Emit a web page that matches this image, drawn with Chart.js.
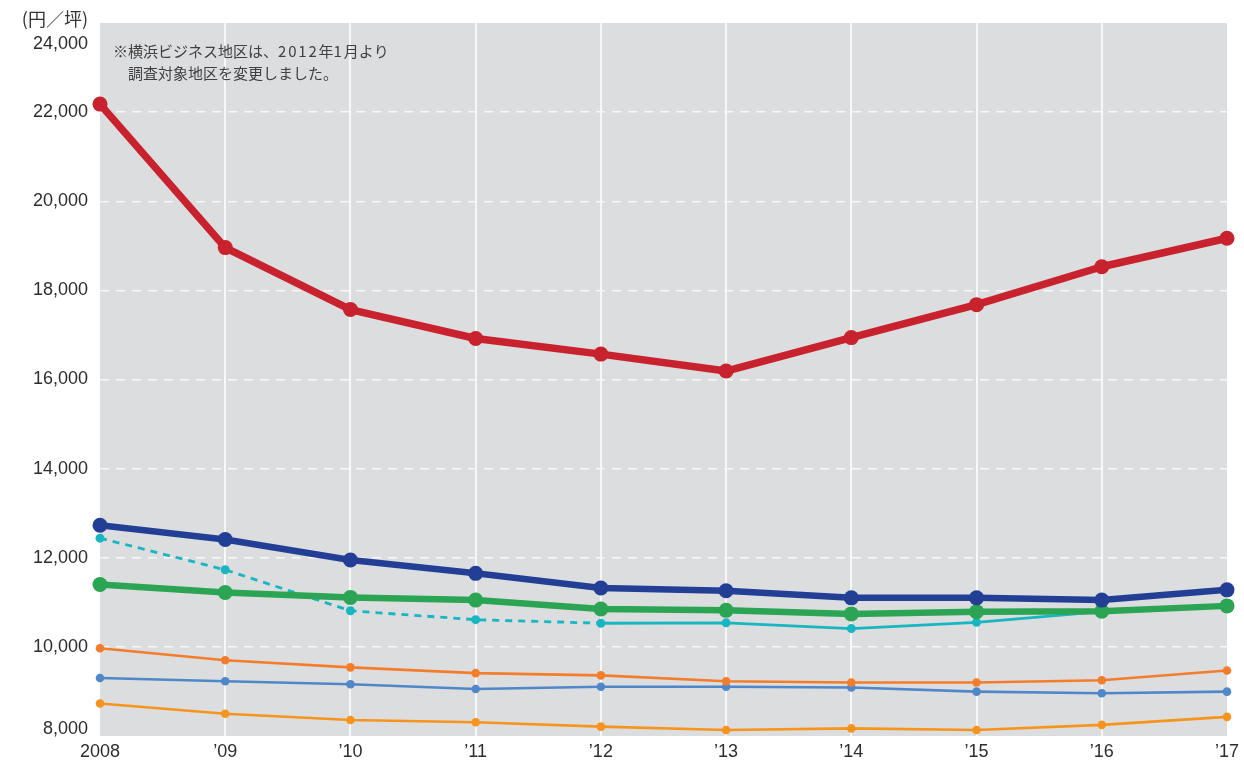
<!DOCTYPE html>
<html lang="ja">
<head>
<meta charset="utf-8">
<title>オフィス賃料推移</title>
<script src="https://cdn.jsdelivr.net/npm/chart.js@4/dist/chart.umd.min.js"></script>
<style>
  html, body { margin: 0; padding: 0; background: #ffffff; }
  #wrap { width: 1244px; height: 763px; }
</style>
</head>
<body>
<div id="wrap"><canvas id="c" width="1244" height="763"></canvas></div>
<script>
// Category labels along the x axis
const years = ['2008', '’09', '’10', '’11', '’12', '’13', '’14', '’15', '’16', '’17'];

// Y axis range and tick step (円／坪)
const yMin = 8000;
const yMax = 24000;
const yStep = 2000;

// Series values, 円／坪
const redSeries    = [22180, 18960, 17570, 16920, 16570, 16190, 16940, 17680, 18530, 19170];
const navySeries   = [12730, 12410, 11950, 11650, 11320, 11260, 11100, 11100, 11050, 11280];
const greenSeries  = [11400, 11220, 11110, 11050, 10850, 10820, 10740, 10790, 10800, 10920];
const cyanSeries   = [12440, 11730, 10810, 10610, 10530, 10540, 10410, 10550, 10790, 10910];
const orangeSeries = [9970, 9700, 9540, 9410, 9360, 9230, 9200, 9200, 9250, 9470];
const blueSeries   = [9300, 9230, 9160, 9055, 9105, 9105, 9090, 8995, 8960, 8995];
const amberSeries  = [8730, 8500, 8360, 8310, 8210, 8135, 8170, 8135, 8250, 8430];

// Index of the last point of the dashed (pre-2012 survey area) section of the cyan line
const cyanDashedUntil = 4;

const FONT_LATIN = '"Liberation Sans", Arial, Helvetica, sans-serif';
const FONT_JP = '"Noto Sans CJK JP", "Noto Sans", sans-serif';
const PLOT_BG = '#dcdddf';
const TICK_COLOR = '#2d2d2d';
const fmt = v => v.toLocaleString('en-US');

function line(data, color, width, radius, extra) {
  return Object.assign({
    data: data,
    borderColor: color,
    backgroundColor: color,
    pointBackgroundColor: color,
    pointBorderColor: color,
    pointBorderWidth: 0,
    borderWidth: width,
    pointRadius: radius,
    pointHoverRadius: radius,
    tension: 0,
    fill: false,
    clip: false,
    borderJoinStyle: 'round',
    borderCapStyle: 'round'
  }, extra || {});
}

// Draws text in runs; digit runs get a little extra tracking
function drawRuns(ctx, text, x, y, digitSpacing) {
  const runs = text.match(/[0-9]+|[^0-9]+/g) || [];
  let cx = x;
  for (const r of runs) {
    const isDigits = /^[0-9]+$/.test(r);
    ctx.letterSpacing = isDigits ? digitSpacing + 'px' : '0px';
    ctx.fillText(r, cx, y);
    cx += ctx.measureText(r).width;
  }
  ctx.letterSpacing = '0px';
}

// Grey plot background, end tick labels, unit label and footnote
const decor = {
  id: 'decor',
  beforeDraw(chart) {
    const { ctx, chartArea: a } = chart;
    ctx.save();
    ctx.fillStyle = PLOT_BG;
    ctx.fillRect(a.left, a.top, a.right - a.left, a.bottom - a.top);
    ctx.restore();
  },
  afterDraw(chart) {
    const { ctx } = chart;
    const ys = chart.scales.y;
    const labelRight = ys.right - ys.options.ticks.padding;
    ctx.save();
    // end labels of the value axis sit just inside the plot
    ctx.fillStyle = TICK_COLOR;
    ctx.font = '18px ' + FONT_LATIN;
    ctx.textAlign = 'right';
    ctx.textBaseline = 'middle';
    ctx.fillText(fmt(yMax), labelRight, ys.getPixelForValue(yMax) + 21);
    ctx.fillText(fmt(yMin), labelRight, ys.getPixelForValue(yMin) - 7);

    ctx.fillStyle = '#333333';
    ctx.font = '18px ' + FONT_JP;
    ctx.fillText('(円／坪)', 88, 19);

    ctx.textAlign = 'left';
    ctx.fillStyle = '#404040';
    ctx.font = '15px ' + FONT_JP;
    drawRuns(ctx, '※横浜ビジネス地区は、2012年1月より', 113, 51, 1.8);
    drawRuns(ctx, '調査対象地区を変更しました。', 128, 73, 1.8);
    ctx.restore();
  }
};

new Chart(document.getElementById('c'), {
  type: 'line',
  data: {
    labels: years,
    datasets: [
      line(redSeries, '#c8222e', 7.5, 7.5),
      line(navySeries, '#233f95', 6.5, 7.5),
      line(greenSeries, '#2ba553', 6.5, 7.5),
      line(cyanSeries, '#17b6c1', 2.8, 4.5, {
        segment: {
          borderDash: ctx => (ctx.p1DataIndex <= cyanDashedUntil ? [7, 6] : undefined)
        },
        borderCapStyle: 'butt'
      }),
      line(orangeSeries, '#f47d2c', 2.6, 4.3),
      line(blueSeries, '#4f87c8', 2.6, 4.3),
      line(amberSeries, '#f7941e', 2.6, 4.3)
    ]
  },
  options: {
    responsive: false,
    animation: false,
    devicePixelRatio: 1,
    layout: { padding: { top: 23, right: 13, left: 0, bottom: 0 } },
    plugins: {
      legend: { display: false },
      tooltip: { enabled: false },
      title: { display: false }
    },
    scales: {
      x: {
        type: 'category',
        offset: false,
        border: { display: false },
        grid: {
          drawTicks: false,
          lineWidth: 2,
          color: ctx => (ctx.index === 0 || ctx.index === years.length - 1) ? 'rgba(0,0,0,0)' : '#f7f7f7'
        },
        ticks: {
          color: TICK_COLOR,
          font: { family: FONT_LATIN, size: 18 },
          padding: 5,
          maxRotation: 0,
          autoSkip: false
        },
        afterFit(scale) { scale.height = 27; }
      },
      y: {
        min: yMin,
        max: yMax,
        border: { display: false, dash: [9, 7] },
        grid: {
          drawTicks: false,
          lineWidth: 1.5,
          color: ctx => (ctx.tick && (ctx.tick.value === yMin || ctx.tick.value === yMax)) ? 'rgba(0,0,0,0)' : '#f7f7f7'
        },
        ticks: {
          stepSize: yStep,
          color: TICK_COLOR,
          font: { family: FONT_LATIN, size: 18 },
          padding: 12,
          // the two end labels are placed by the decor plugin
          callback: v => (v === yMin || v === yMax) ? '' : fmt(v)
        },
        afterFit(scale) { scale.width = 100; }
      }
    }
  },
  plugins: [decor]
});
</script>
</body>
</html>
